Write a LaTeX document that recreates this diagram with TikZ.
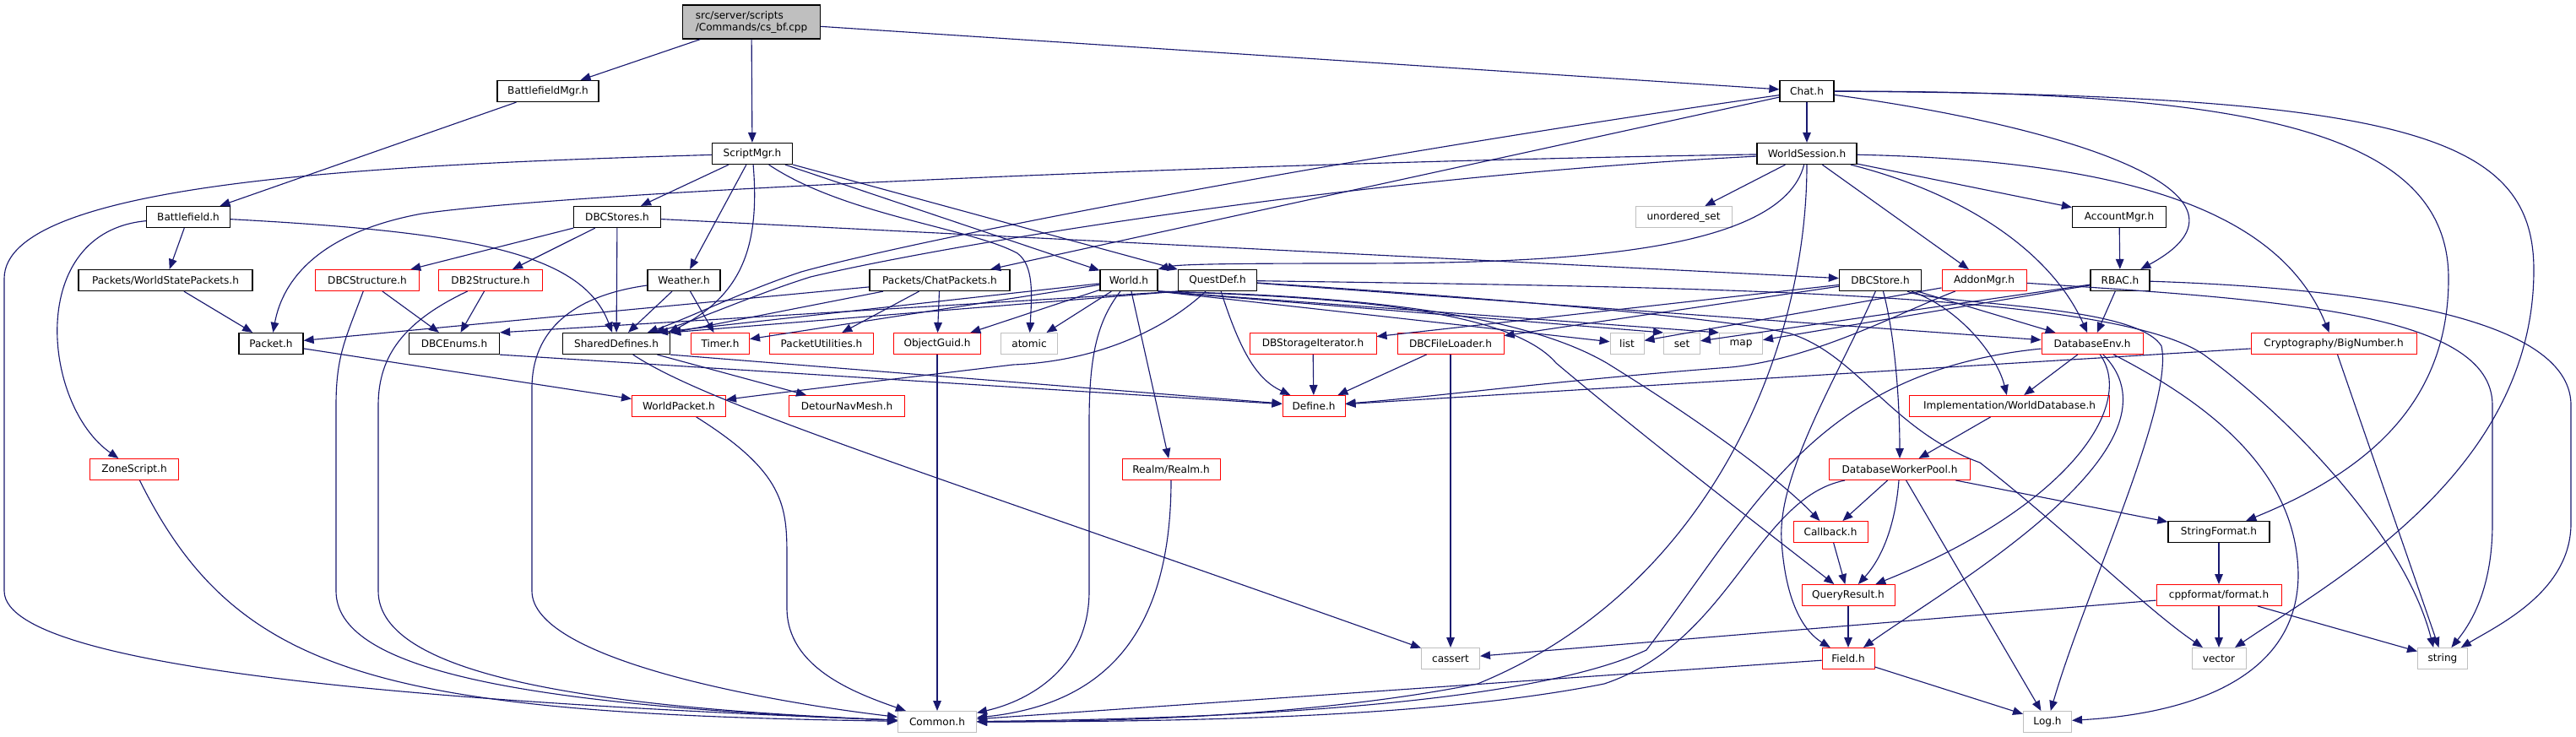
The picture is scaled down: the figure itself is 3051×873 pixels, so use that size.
\documentclass[tikz,border=0pt]{standalone}
\usepackage{fontspec}
\setmainfont{DejaVu Sans}
\usepackage{xcolor}
\usepackage{tikz}
\usetikzlibrary{arrows.meta}

\definecolor{edgeblue}{HTML}{191970}
\definecolor{cutred}{HTML}{FF0000}
\definecolor{sysgray}{HTML}{BFBFBF}

\begin{document}
\begin{tikzpicture}[x=0.025cm, y=-0.025cm,
    hdr/.style={draw, line width=0.7pt, minimum height=0.625cm, inner xsep=2pt, inner ysep=1pt,
                fill=white, font=\fontsize{8.6}{10}\selectfont},
    blackbox/.style={hdr, draw=black, line width=0.9pt},
    redbox/.style={hdr, draw=cutred},
    graybox/.style={hdr, draw=sysgray},
    rootbox/.style={hdr, draw=black, line width=0.9pt, fill=sysgray, align=left, minimum height=1cm},
    dep/.style={draw=edgeblue, line width=0.8pt, -{Triangle[length=0.3cm, width=0.24cm]}}]

    % canvas, same size as the doxygen png
    \fill[white] (0,0) rectangle (3051,873);
    \useasboundingbox (0,0) rectangle (3051,873);

    % the file itself
    \node[rootbox, minimum width=4.075cm] (cs) at (890,26) {src/server/scripts\\/Commands/cs\_bf.cpp};

    % rows 1 and 2
    \node[blackbox, minimum width=3cm]     (bfmgr)     at (649,108)  {BattlefieldMgr.h};
    \node[blackbox, minimum width=1.6cm]   (chat)      at (2140,108) {Chat.h};
    \node[blackbox, minimum width=2.375cm] (scriptmgr) at (891,182)  {ScriptMgr.h};
    \node[blackbox, minimum width=2.95cm]  (session)   at (2140,182) {WorldSession.h};

    % row 3
    \node[blackbox, minimum width=2.475cm] (battlefield) at (223,257)  {Battlefield.h};
    \node[blackbox, minimum width=2.575cm] (dbcstores)   at (731,257)  {DBCStores.h};
    \node[graybox,  minimum width=2.85cm]  (unordset)    at (1994,257) {unordered\_set};
    \node[blackbox, minimum width=2.775cm] (accountmgr)  at (2510,257) {AccountMgr.h};

    % row 4
    \node[blackbox, minimum width=5.15cm]  (wspackets)   at (196,332)  {Packets/WorldStatePackets.h};
    \node[redbox,   minimum width=3.075cm] (dbcstruct)   at (435,332)  {DBCStructure.h};
    \node[redbox,   minimum width=3.05cm]  (db2struct)   at (581,332)  {DB2Structure.h};
    \node[blackbox, minimum width=2.15cm]  (weather)     at (810,332)  {Weather.h};
    \node[blackbox, minimum width=4.15cm]  (chatpackets) at (1113,332) {Packets/ChatPackets.h};
    \node[blackbox, minimum width=1.7cm]   (world)       at (1337,332) {World.h};
    \node[blackbox, minimum width=2.325cm] (questdef)    at (1442,332) {QuestDef.h};
    \node[blackbox, minimum width=2.425cm] (dbcstore)    at (2227,332) {DBCStore.h};
    \node[redbox,   minimum width=2.5cm]   (addonmgr)    at (2350,332) {AddonMgr.h};
    \node[blackbox, minimum width=1.75cm]  (rbac)        at (2511,332) {RBAC.h};

    % row 5
    \node[blackbox, minimum width=1.9cm]   (packet)     at (321,407)  {Packet.h};
    \node[blackbox, minimum width=2.675cm] (dbcenums)   at (538,407)  {DBCEnums.h};
    \node[blackbox, minimum width=3.175cm] (shared)     at (730,407)  {SharedDefines.h};
    \node[redbox,   minimum width=1.725cm] (timer)      at (853,407)  {Timer.h};
    \node[redbox,   minimum width=3.075cm] (pktutil)    at (973,407)  {PacketUtilities.h};
    \node[redbox,   minimum width=2.575cm] (guid)       at (1110,407) {ObjectGuid.h};
    \node[graybox,  minimum width=1.675cm] (atomic)     at (1219,407) {atomic};
    \node[redbox,   minimum width=3.75cm]  (dbsiter)    at (1555,407) {DBStorageIterator.h};
    \node[redbox,   minimum width=3.15cm]  (fileloader) at (1718,407) {DBCFileLoader.h};
    \node[graybox,  minimum width=1cm]     (list)       at (1927,407) {list};
    \node[graybox,  minimum width=1.075cm] (set)        at (1992,407) {set};
    \node[graybox,  minimum width=1.275cm] (map)        at (2062,407) {map};
    \node[redbox,   minimum width=3cm]     (dbenv)      at (2478,407) {DatabaseEnv.h};
    \node[redbox,   minimum width=4.9cm]   (bignum)     at (2764,407) {Cryptography/BigNumber.h};

    % row 6
    \node[redbox, minimum width=2.775cm] (worldpacket) at (804,481)  {WorldPacket.h};
    \node[redbox, minimum width=3.425cm] (detour)      at (1003,481) {DetourNavMesh.h};
    \node[redbox, minimum width=1.85cm]  (define)      at (1556,481) {Define.h};
    \node[redbox, minimum width=5.925cm] (worlddb)     at (2380,481) {Implementation/WorldDatabase.h};

    % rows 7 to 11
    \node[redbox,   minimum width=2.625cm] (zonescript)   at (159,556)  {ZoneScript.h};
    \node[redbox,   minimum width=2.9cm]   (realm)        at (1387,556) {Realm/Realm.h};
    \node[redbox,   minimum width=4.175cm] (workerpool)   at (2250,556) {DatabaseWorkerPool.h};
    \node[redbox,   minimum width=2.2cm]   (callback)     at (2168,630) {Callback.h};
    \node[blackbox, minimum width=3cm]     (stringformat) at (2628,630) {StringFormat.h};
    \node[redbox,   minimum width=2.75cm]  (queryresult)  at (2189,705) {QueryResult.h};
    \node[redbox,   minimum width=3.7cm]   (cppformat)    at (2628,705) {cppformat/format.h};
    \node[graybox,  minimum width=1.725cm] (cassert)      at (1718,780) {cassert};
    \node[redbox,   minimum width=1.55cm]  (field)        at (2189,780) {Field.h};
    \node[graybox,  minimum width=1.6cm]   (vector)       at (2628,780) {vector};
    \node[graybox,  minimum width=1.475cm] (string)       at (2893,780) {string};
    \node[graybox,  minimum width=2.325cm] (common)       at (1110,855) {Common.h};
    \node[graybox,  minimum width=1.425cm] (log)          at (2425,855) {Log.h};

    % includes of the script file
    \draw[dep] (cs) -- (bfmgr);
    \draw[dep] (cs) -- (scriptmgr);
    \draw[dep] (cs) -- (chat);

    % battlefield branch
    \draw[dep] (bfmgr) -- (battlefield);
    \draw[dep] (battlefield) -- (wspackets);
    \draw[dep] (battlefield) .. controls (30,275) and (50,480) .. (zonescript);
    \draw[dep] (battlefield) .. controls (560,275) and (690,300) .. (shared);
    \draw[dep] (wspackets) -- (packet);
    \draw[dep] (packet) -- (worldpacket);

    % ScriptMgr.h
    \draw[dep] (scriptmgr) .. controls (450,195) and (5,215) .. (5,330) -- (5,700)
                           .. controls (5,800) and (600,835) .. (common);
    \draw[dep] (scriptmgr) -- (dbcstores);
    \draw[dep] (scriptmgr) -- (weather);
    \draw[dep] (scriptmgr) .. controls (900,290) and (880,350) .. (shared.12);
    \draw[dep] (scriptmgr) .. controls (1000,255) and (1150,270) .. (1205,300)
                           .. controls (1225,315) and (1222,350) .. (atomic);
    \draw[dep] (scriptmgr) -- (world);
    \draw[dep] (scriptmgr) -- (questdef);

    % Chat.h
    \draw[dep] (chat) -- (session);
    \draw[dep] (chat) .. controls (1600,185) and (1100,280) .. (949,322)
                      .. controls (880,345) and (820,375) .. (shared);
    \draw[dep] (chat) -- (chatpackets);
    \draw[dep] (chat) .. controls (2450,150) and (2700,230) .. (rbac);
    \draw[dep] (chat) .. controls (2650,108) and (2900,150) .. (2900,330)
                      .. controls (2900,480) and (2800,560) .. (stringformat);
    \draw[dep] (chat) .. controls (2850,112) and (3001,160) .. (3001,320)
                      .. controls (3001,560) and (2760,690) .. (vector);

    % WorldSession.h
    \draw[dep] (session) -- (unordset);
    \draw[dep] (session) .. controls (2110,300) and (1850,312) .. (1600,312)
                         .. controls (1450,312) and (1395,313) .. (world.north east);
    \draw[dep] (session) .. controls (2140,420) and (2020,700) .. (1750,810)
                         .. controls (1550,850) and (1300,855) .. (common);
    \draw[dep] (session) -- (addonmgr);
    \draw[dep] (session) .. controls (2330,230) and (2430,300) .. (dbenv);
    \draw[dep] (session) -- (accountmgr);
    \draw[dep] (session) .. controls (2520,190) and (2700,250) .. (bignum);
    \draw[dep] (session) .. controls (1500,192) and (700,225) .. (500,253)
                         .. controls (380,275) and (335,330) .. (packet);
    \draw[dep] (session) .. controls (1600,210) and (1120,290) .. (960,328)
                         .. controls (890,350) and (830,378) .. (shared);

    % DBCStores.h and the structures
    \draw[dep] (dbcstores) -- (dbcstruct);
    \draw[dep] (dbcstores) -- (db2struct);
    \draw[dep] (dbcstores) -- (shared);
    \draw[dep] (dbcstores) -- (dbcstore);
    \draw[dep] (dbcstruct) -- (dbcenums);
    \draw[dep] (dbcstruct) .. controls (410,400) and (398,420) .. (398,480) -- (398,700)
                           .. controls (398,790) and (600,835) .. (common);
    \draw[dep] (db2struct) -- (dbcenums);
    \draw[dep] (db2struct) .. controls (480,380) and (448,420) .. (448,480) -- (448,700)
                           .. controls (448,800) and (700,838) .. (common);

    % Weather.h
    \draw[dep] (weather) -- (shared);
    \draw[dep] (weather) -- (timer);
    \draw[dep] (weather) .. controls (680,350) and (630,390) .. (630,460) -- (630,700)
                         .. controls (630,780) and (900,830) .. (common);

    % DBCEnums.h and SharedDefines.h
    \draw[dep] (dbcenums.south east) -- (define);
    \draw[dep] (shared.south east) -- (define);
    \draw[dep] (shared) -- (detour);
    \draw[dep] (shared) .. controls (840,480) and (1100,560) .. (cassert);

    % Packets/ChatPackets.h
    \draw[dep] (chatpackets) -- (packet);
    \draw[dep] (chatpackets) -- (shared);
    \draw[dep] (chatpackets) -- (pktutil);
    \draw[dep] (chatpackets) -- (guid);

    % World.h
    \draw[dep] (world) .. controls (1300,380) and (1290,420) .. (1290,500) -- (1290,700)
                       .. controls (1290,790) and (1220,830) .. (common);
    \draw[dep] (world) -- (realm);
    \draw[dep] (world) -- (guid);
    \draw[dep] (world) -- (timer);
    \draw[dep] (world) -- (shared.15);
    \draw[dep] (world) -- (atomic);
    \draw[dep] (world.south east) -- (list);
    \draw[dep] (world.south east) -- (set.north west);
    \draw[dep] (world.south east) -- (map.north west);
    \draw[dep] (world.south east) .. controls (1600,350) and (1800,370) .. (1903,430)
                                  .. controls (2000,490) and (2100,560) .. (callback);
    \draw[dep] (world.south east) .. controls (1600,352) and (1790,368) .. (1843,430)
                                  .. controls (1950,520) and (2080,620) .. (queryresult);

    % QuestDef.h
    \draw[dep] (questdef) .. controls (1470,420) and (1490,450) .. (define);
    \draw[dep] (questdef) .. controls (1380,390) and (1300,428) .. (1200,432)
                          .. controls (1050,450) and (900,468) .. (worldpacket);
    \draw[dep] (questdef.south west) -- (dbcenums.north east);
    \draw[dep] (questdef.south west) -- (shared.north east);
    \draw[dep] (questdef) -- (dbenv);
    \draw[dep] (questdef) .. controls (2000,340) and (2500,345) .. (2610,420)
                          .. controls (2720,500) and (2850,640) .. (string.130);
    \draw[dep] (questdef) .. controls (1800,355) and (2050,378) .. (2120,395)
                          .. controls (2200,420) and (2240,510) .. (2345,548)
                          .. controls (2450,630) and (2540,720) .. (vector);

    % DBCStore.h
    \draw[dep] (dbcstore) -- (dbsiter);
    \draw[dep] (dbcstore) -- (fileloader);
    \draw[dep] (dbcstore) -- (dbenv);
    \draw[dep] (dbcstore) .. controls (2320,365) and (2365,420) .. (worlddb);
    \draw[dep] (dbcstore) .. controls (2245,400) and (2250,480) .. (workerpool);
    \draw[dep] (dbcstore) .. controls (2180,440) and (2105,560) .. (2110,640)
                          .. controls (2115,720) and (2140,750) .. (field);
    \draw[dep] (dbcstore) .. controls (2300,362) and (2530,360) .. (2560,410)
                          .. controls (2575,480) and (2470,700) .. (log);

    % AccountMgr.h, AddonMgr.h, RBAC.h, BigNumber.h
    \draw[dep] (accountmgr) -- (rbac);
    \draw[dep] (addonmgr) -- (list);
    \draw[dep] (addonmgr) .. controls (2250,370) and (2150,425) .. (2050,435)
                          .. controls (1850,450) and (1700,470) .. (define);
    \draw[dep] (addonmgr) .. controls (2700,355) and (2952,370) .. (2952,480) -- (2952,620)
                          .. controls (2952,700) and (2925,740) .. (string);
    \draw[dep] (rbac) -- (dbenv);
    \draw[dep] (rbac) -- (set);
    \draw[dep] (rbac) -- (map);
    \draw[dep] (rbac) .. controls (2900,345) and (3045,400) .. (3045,480) -- (3045,620)
                      .. controls (3045,700) and (2960,740) .. (string);
    \draw[dep] (bignum) -- (define);
    \draw[dep] (bignum) -- (string);

    % DBC loaders
    \draw[dep] (dbsiter) -- (define);
    \draw[dep] (fileloader) -- (define);
    \draw[dep] (fileloader) -- (cassert);

    % DatabaseEnv.h
    \draw[dep] (dbenv) -- (worlddb);
    \draw[dep] (dbenv) .. controls (2530,480) and (2450,600) .. (queryresult);
    \draw[dep] (dbenv) .. controls (2600,530) and (2300,700) .. (field);
    \draw[dep] (dbenv) .. controls (2620,480) and (2720,560) .. (2722,680)
                       .. controls (2722,800) and (2600,845) .. (log);
    \draw[dep] (dbenv) .. controls (2150,440) and (2080,600) .. (1950,770)
                       .. controls (1800,840) and (1400,852) .. (common);

    % database worker pool and below
    \draw[dep] (worlddb) -- (workerpool);
    \draw[dep] (workerpool) -- (callback);
    \draw[dep] (workerpool) .. controls (2245,620) and (2230,660) .. (queryresult);
    \draw[dep] (workerpool) -- (log);
    \draw[dep] (workerpool) -- (stringformat);
    \draw[dep] (workerpool) .. controls (2080,590) and (2050,760) .. (1900,810)
                            .. controls (1700,850) and (1400,855) .. (common);
    \draw[dep] (callback) -- (queryresult);
    \draw[dep] (queryresult) -- (field);
    \draw[dep] (field) -- (common);
    \draw[dep] (field) -- (log);

    % string formatting
    \draw[dep] (stringformat) -- (cppformat);
    \draw[dep] (cppformat) -- (vector);
    \draw[dep] (cppformat) -- (string);
    \draw[dep] (cppformat) -- (cassert);

    % leaves into Common.h
    \draw[dep] (realm) .. controls (1387,760) and (1300,835) .. (common);
    \draw[dep] (guid) -- (common);
    \draw[dep] (worldpacket) .. controls (930,560) and (932,600) .. (932,660) -- (932,720)
                             .. controls (932,790) and (1010,820) .. (common);
    \draw[dep] (zonescript) .. controls (280,800) and (450,845) .. (common);

\end{tikzpicture}
\end{document}
